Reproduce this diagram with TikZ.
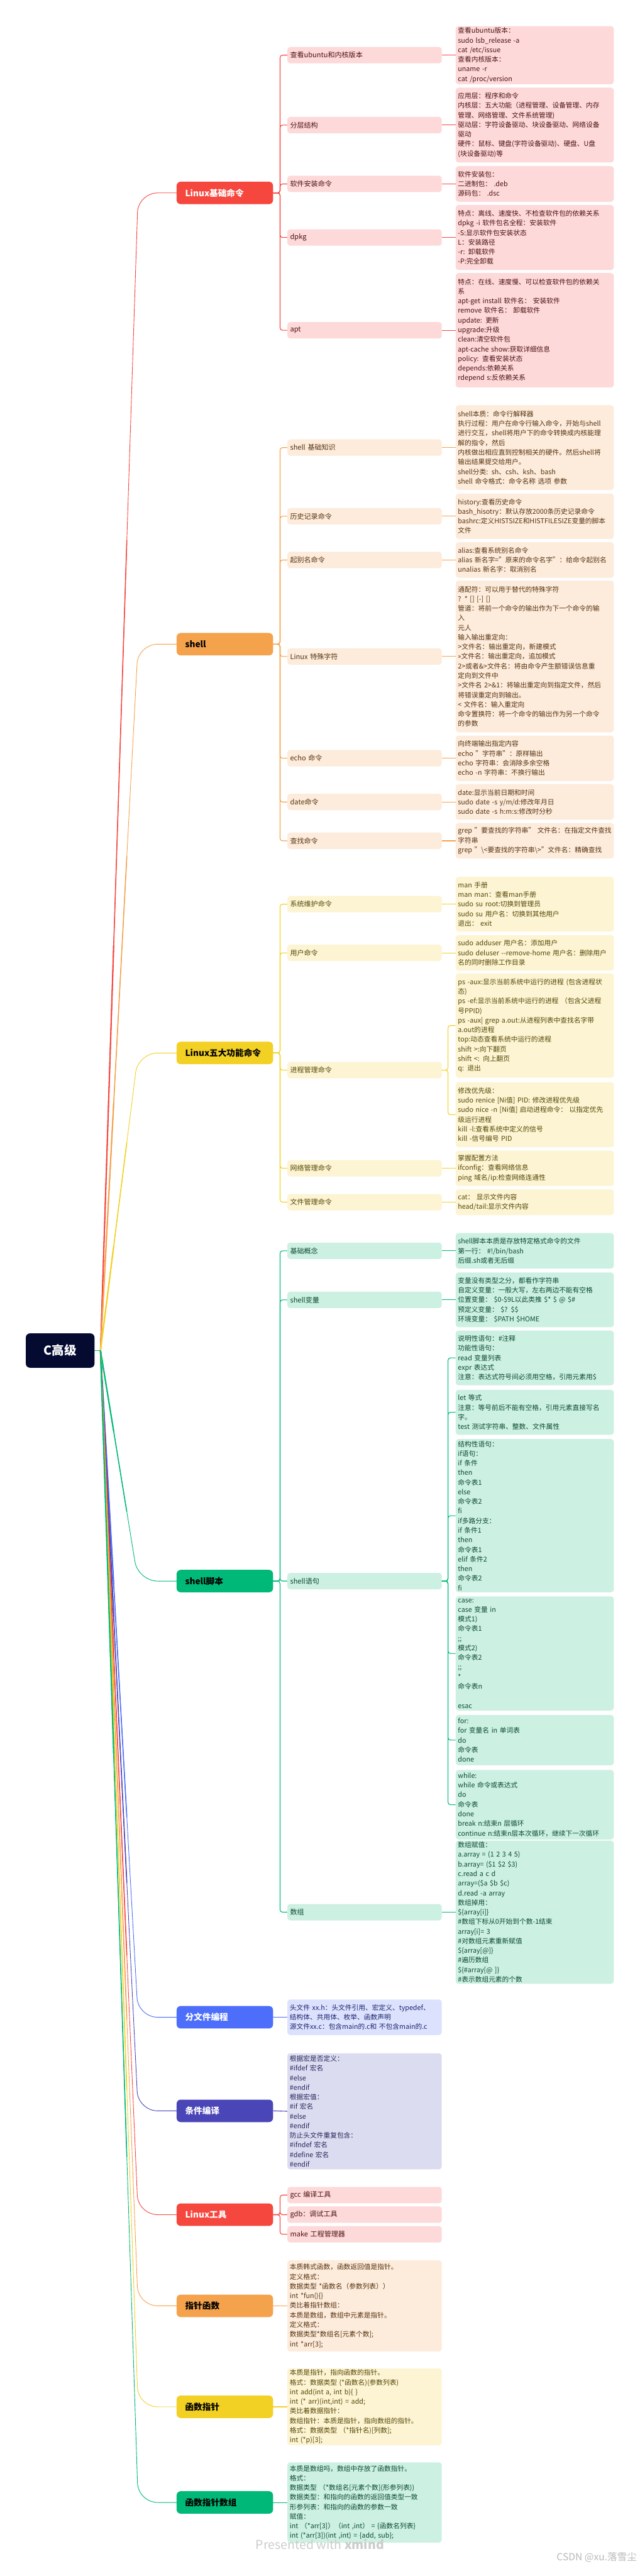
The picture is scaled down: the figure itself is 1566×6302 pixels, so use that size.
\documentclass[tikz,border=0pt]{standalone}
\usepackage{fontspec}
\setmainfont{Noto Sans CJK SC}
\usetikzlibrary{calc}
\definecolor{rootnavy}{HTML}{050B30}
\definecolor{lredmain}{HTML}{F6473F}
\definecolor{lredsoft}{HTML}{FDD9D9}
\definecolor{lredink}{HTML}{4E1212}
\definecolor{lorgmain}{HTML}{F5A24D}
\definecolor{lorgsoft}{HTML}{FDEBDB}
\definecolor{lorgink}{HTML}{553310}
\definecolor{lyelmain}{HTML}{F2D024}
\definecolor{lyelsoft}{HTML}{FCF4D2}
\definecolor{lyelink}{HTML}{554606}
\definecolor{lgrnmain}{HTML}{00B978}
\definecolor{lgrnsoft}{HTML}{CCF0E2}
\definecolor{lgrnink}{HTML}{0B4A31}
\definecolor{lblumain}{HTML}{4C6EFA}
\definecolor{lblusoft}{HTML}{DCE2FE}
\definecolor{lbluink}{HTML}{1B246B}
\definecolor{lindmain}{HTML}{4B46B8}
\definecolor{lindsoft}{HTML}{DCDCF0}
\definecolor{lindink}{HTML}{27255C}

\begin{document}
\begin{tikzpicture}[x=1pt, y=-1pt]
    \tikzset{
        rootbox/.style={fill=rootnavy, text=white, rounded corners=10pt, anchor=west,
            font=\bfseries\fontsize{30}{34}\selectfont, minimum height=84pt,
            text width=148pt, inner xsep=10pt, align=center},
        mainbox/.style={rounded corners=10pt, anchor=west, font=\bfseries\fontsize{21}{25}\selectfont,
            minimum height=55pt, text width=194pt, inner xsep=21pt, align=left},
        main/.style={mainbox, fill=#1main, text=black},
        sub/.style={fill=#1soft, text=#1ink, rounded corners=7pt, anchor=west,
            font=\fontsize{17}{23.5}\selectfont, minimum height=40pt,
            text width=364pt, inner xsep=7pt, inner ysep=3pt, align=left},
        note/.style={sub=#1, font=\fontsize{16.5}{23.5}\selectfont, text width=366pt, inner xsep=6pt},
        leaf/.style={sub=#1, font=\fontsize{16.5}{23.5}\selectfont, text width=376pt, inner xsep=5.5pt},
        wire/.style={draw=#1main, line width=1.7pt, rounded corners=6pt}
    }

    % fond et cadre
    \fill[white] (0,0) rectangle (1566,6302);
    \useasboundingbox (0,0) rectangle (1566,6302);

    % racine
    \node[rootbox] (root) at (63,3304) {C高级};

    % branches principales
    \node[main=lred, text=white] (m1) at (432,472) {Linux基础命令};
    \node[main=lorg] (m2) at (432,1576) {shell};
    \node[main=lyel] (m3) at (432,2576) {Linux五大功能命令};
    \node[main=lgrn] (m4) at (432,3868) {shell脚本};
    \node[main=lblu, text=white] (m5) at (432,4935) {分文件编程};
    \node[main=lind, text=white] (m6) at (432,5164) {条件编译};
    \node[main=lred, text=white] (m7) at (432,5418) {Linux工具};
    \node[main=lorg] (m8) at (432,5641) {指针函数};
    \node[main=lyel] (m9) at (432,5888) {函数指针};
    \node[main=lgrn] (m10) at (432,6122) {函数指针数组};

    % liens racine (effilés)
    \coordinate (hub) at (246,3304);
    \coordinate (bend) at (338,0);
    \draw[lgrnmain, line width=1.3pt] (root.east) -- (hub);
    \foreach \m/\col in {m1/lred,m2/lorg,m3/lyel,m4/lgrn,m5/lblu,m6/lind,m7/lred,m8/lorg,m9/lyel,m10/lgrn} {
        \coordinate (k\m) at (\m.west -| bend);
        \draw[draw=\col main, line width=1.4pt, rounded corners=48pt] (hub) -- (k\m) -- (\m.west);
        \draw[draw=\col main, line width=2.4pt] (hub) -- ($(hub)!0.7!(k\m)$);
        \draw[draw=\col main, line width=3.2pt] (hub) -- ($(hub)!0.35!(k\m)$);
    }

    % -- Linux基础命令 --
    \node[sub=lred] (ver) at (703,135) {查看ubuntu和内核版本};
    \node[sub=lred] (layer) at (703,306) {分层结构};
    \node[sub=lred] (inst) at (703,450) {软件安装命令};
    \node[sub=lred] (dpkg) at (703,581) {dpkg};
    \node[sub=lred] (apt) at (703,808) {apt};

    \node[leaf=lred, minimum height=142pt] (t-ver) at (1115,135)
        {查看ubuntu版本：\\sudo lsb\_release -a\\cat /etc/issue\\查看内核版本：\\uname -r\\cat /proc/version};
    \node[leaf=lred, minimum height=183pt] (t-layer) at (1115,306)
        {应用层：程序和命令\\内核层：五大功能（进程管理、设备管理、内存\\管理、网络管理、文件系统管理)\\驱动层：字符设备驱动、块设备驱动、网络设备\\驱动\\硬件：鼠标、键盘(字符设备驱动)、硬盘、U盘\\(块设备驱动)等};
    \node[leaf=lred, minimum height=87pt] (t-inst) at (1115,450)
        {软件安装包：\\二进制包： .deb\\源码包： .dsc};
    \node[leaf=lred, minimum height=159pt] (t-dpkg) at (1115,581)
        {特点：离线、速度快、不检查软件包的依赖关系\\dpkg -i 软件包名全程：安装软件\\-S:显示软件包安装状态\\L：安装路径\\-r: 卸载软件\\-P:完全卸载};
    \node[leaf=lred, minimum height=280pt] (t-apt) at (1115,808)
        {特点：在线、速度慢、可以检查软件包的依赖关\\系\\apt-get install 软件名： 安装软件\\remove 软件名： 卸载软件\\update: 更新\\upgrade:升级\\clean:清空软件包\\apt-cache show:获取详细信息\\policy: 查看安装状态\\depends:依赖关系\\rdepend s:反依赖关系};

    \foreach \k in {ver,layer,inst,dpkg,apt} {
        \draw[wire=lred] (m1.east) -- ++(17,0) |- (\k.west);
        \draw[wire=lred] (\k.east) -- (t-\k.west);
    }

    % -- shell --
    \node[sub=lorg] (base) at (703,1095) {shell 基础知识};
    \node[sub=lorg] (hist) at (703,1263) {历史记录命令};
    \node[sub=lorg] (alias) at (703,1370) {起别名命令};
    \node[sub=lorg] (spec) at (703,1606) {Linux 特殊字符};
    \node[sub=lorg] (echo) at (703,1855) {echo 命令};
    \node[sub=lorg] (date) at (703,1962) {date命令};
    \node[sub=lorg] (grep) at (703,2057) {查找命令};

    \node[leaf=lorg, minimum height=207pt] (t-base) at (1115,1095)
        {shell本质：命令行解释器\\执行过程：用户在命令行输入命令，开始与shell\\进行交互，shell将用户下的命令转换成内核能理\\解的指令，然后\\内核做出相应直到控制相关的硬件。然后shell将\\输出结果提交给用户。\\shell分类: sh、csh、ksh、bash\\shell 命令格式：命令名称 选项 参数};
    \node[leaf=lorg, minimum height=111pt] (t-hist) at (1115,1263)
        {history:查看历史命令\\bash\_hisotry：默认存放2000条历史记录命令\\bashrc:定义HISTSIZE和HISTFILESIZE变量的脚本\\文件};
    \node[leaf=lorg, minimum height=87pt] (t-alias) at (1115,1370)
        {alias:查看系统别名命令\\alias 新名字="原来的命令名字"：给命令起别名\\unalias 新名字：取消别名};
    \node[leaf=lorg, minimum height=371pt] (t-spec) at (1115,1606)
        {通配符：可以用于替代的特殊字符\\? * [] [-] []\\管道：将前一个命令的输出作为下一个命令的输\\入\\元人\\输入输出重定向：\\>文件名：输出重定向，新建模式\\>>文件名：输出重定向，追加模式\\2>或者\&>文件名：将由命令产生额错误信息重\\定向到文件中\\>文件名 2>\&1：将输出重定向到指定文件，然后\\将错误重定向到输出。\\< 文件名：输入重定向\\命令置换符：将一个命令的输出作为另一个命令\\的参数};
    \node[leaf=lorg, minimum height=111pt] (t-echo) at (1115,1855)
        {向终端输出指定内容\\echo "字符串"：原样输出\\echo 字符串：会消除多余空格\\echo -n 字符串：不换行输出};
    \node[leaf=lorg, minimum height=87pt] (t-date) at (1115,1962)
        {date:显示当前日期和时间\\sudo date -s y/m/d:修改年月日\\sudo date -s h:m:s:修改时分秒};
    \node[leaf=lorg, minimum height=87pt] (t-grep) at (1115,2057)
        {grep "要查找的字符串" 文件名：在指定文件查找\\字符串\\grep "\textbackslash<要查找的字符串\textbackslash>"文件名：精确查找};

    \foreach \k in {base,hist,alias,spec,echo,date,grep} {
        \draw[wire=lorg] (m2.east) -- ++(17,0) |- (\k.west);
        \draw[wire=lorg] (\k.east) -- (t-\k.west);
    }

    % -- Linux五大功能命令 --
    \node[sub=lyel] (sysm) at (703,2212) {系统维护命令};
    \node[sub=lyel] (user) at (703,2331) {用户命令};
    \node[sub=lyel] (proc) at (703,2618) {进程管理命令};
    \node[sub=lyel] (net) at (703,2858) {网络管理命令};
    \node[sub=lyel] (file) at (703,2941) {文件管理命令};

    \node[leaf=lyel, minimum height=134pt] (t-sysm) at (1115,2212)
        {man 手册\\man man：查看man手册\\sudo su root:切换到管理员\\sudo su 用户名：切换到其他用户\\退出： exit};
    \node[leaf=lyel, minimum height=87pt] (t-user) at (1115,2331)
        {sudo adduser 用户名：添加用户\\sudo deluser -{}-remove-home 用户名：删除用户\\名的同时删除工作目录};
    \node[leaf=lyel, minimum height=255pt] (t-proc1) at (1115,2509)
        {ps -aux:显示当前系统中运行的进程 (包含进程状\\态)\\ps -ef:显示当前系统中运行的进程 （包含父进程\\号PPID)\\ps -aux| grep a.out:从进程列表中查找名字带\\a.out的进程\\top:动态查看系统中运行的进程\\shift >:向下翻页\\shift <: 向上翻页\\q: 退出};
    \node[leaf=lyel, minimum height=159pt] (t-proc2) at (1115,2727)
        {修改优先级：\\sudo renice [Ni值] PID: 修改进程优先级\\sudo nice -n [Ni值] 启动进程命令： 以指定优先\\级运行进程\\kill -l:查看系统中定义的信号\\kill -信号编号 PID};
    \node[leaf=lyel, minimum height=86pt] (t-net) at (1115,2858)
        {掌握配置方法\\ifconfig：查看网络信息\\ping 域名/ip:检查网络连通性};
    \node[leaf=lyel, minimum height=63pt] (t-file) at (1115,2941)
        {cat： 显示文件内容\\head/tail:显示文件内容};

    \foreach \k in {sysm,user,proc,net,file}
        \draw[wire=lyel] (m3.east) -- ++(17,0) |- (\k.west);
    \foreach \k in {sysm,user,net,file}
        \draw[wire=lyel] (\k.east) -- (t-\k.west);
    \foreach \t in {t-proc1,t-proc2}
        \draw[wire=lyel] (proc.east) -- ++(15,0) |- (\t.west);

    % -- shell脚本 --
    \node[sub=lgrn] (idea) at (703,3060) {基础概念};
    \node[sub=lgrn] (var) at (703,3180) {shell变量};
    \node[sub=lgrn] (stmt) at (703,3868) {shell语句};
    \node[sub=lgrn] (arr) at (703,4678) {数组};

    \node[leaf=lgrn, minimum height=87pt] (t-idea) at (1115,3060)
        {shell脚本本质是存放特定格式命令的文件\\第一行： \#!/bin/bash\\后缀.sh或者无后缀};
    \node[leaf=lgrn, minimum height=134pt] (t-var) at (1115,3180)
        {变量没有类型之分，都看作字符串\\自定义变量：一般大写，左右两边不能有空格\\位置变量： \$0-\$9L以此类推 \$* \$ @ \$\#\\预定义变量： \$? \$\$\\环境变量： \$PATH \$HOME};
    \node[leaf=lgrn, minimum height=134pt] (t-stmt1) at (1115,3322)
        {说明性语句：\#注释\\功能性语句：\\read 变量列表\\expr 表达式\\注意：表达式符号间必须用空格，引用元素用\$};
    \node[leaf=lgrn, minimum height=110pt] (t-stmt2) at (1115,3455)
        {let 等式\\注意：等号前后不能有空格，引用元素直接写名\\字。\\test 测试字符串、整数、文件属性};
    \node[leaf=lgrn, minimum height=375pt] (t-stmt3) at (1115,3708)
        {结构性语句：\\if语句：\\if 条件\\then\\命令表1\\else\\命令表2\\fi\\if多路分支：\\if 条件1\\then\\命令表1\\elif 条件2\\then\\命令表2\\fi};
    \node[leaf=lgrn, minimum height=279pt] (t-stmt4) at (1115,4045)
        {case:\\case 变量 in\\模式1)\\命令表1\\;;\\模式2)\\命令表2\\;;\\{}*\\命令表n\\[23.5pt]esac};
    \node[leaf=lgrn, minimum height=123pt] (t-stmt5) at (1115,4257)
        {for:\\for 变量名 in 单词表\\do\\命令表\\done};
    \node[leaf=lgrn, minimum height=170pt] (t-stmt6) at (1115,4415)
        {while:\\while 命令或表达式\\do\\命令表\\done\\break n:结束n 层循环\\continue n:结束n层本次循环，继续下一次循环};
    \node[leaf=lgrn, minimum height=339pt] (t-arr) at (1115,4678)
        {数组赋值：\\a.array = (1 2 3 4 5)\\b.array= (\$1 \$2 \$3)\\c.read a c d\\array=(\$a \$b \$c)\\d.read -a array\\数组掉用：\\\$\{array[i]\}\\\#数组下标从0开始到个数-1结束\\array[i]= 3\\\#对数组元素重新赋值\\\$\{array[@]\}\\\#遍历数组\\\$\{\#array[@ ]\}\\\#表示数组元素的个数};

    \foreach \k in {idea,var,stmt,arr}
        \draw[wire=lgrn] (m4.east) -- ++(17,0) |- (\k.west);
    \foreach \k in {idea,var,arr}
        \draw[wire=lgrn] (\k.east) -- (t-\k.west);
    \foreach \i in {1,...,6}
        \draw[wire=lgrn] (stmt.east) -- ++(15,0) |- (t-stmt\i.west);

    % -- 分文件编程, 条件编译 --
    \node[note=lblu, minimum height=87pt] (split) at (703,4935)
        {头文件 xx.h：头文件引用、宏定义、typedef、\\结构体、共用体、枚举、函数声明\\源文件xx.c：包含main的.c和 不包含main的.c};
    \node[note=lind, minimum height=284pt] (cond) at (703,5165)
        {根据宏是否定义：\\\#ifdef 宏名\\\#else\\\#endif\\根据宏值：\\\#if 宏名\\\#else\\\#endif\\防止头文件重复包含：\\\#ifndef 宏名\\\#define 宏名\\\#endif};
    \draw[wire=lblu] (m5.east) -- (split.west);
    \draw[wire=lind] (m6.east) -- (cond.west);

    % -- Linux工具 --
    \node[sub=lred] (gcc) at (703,5370) {gcc 编译工具};
    \node[sub=lred] (gdb) at (703,5418) {gdb：调试工具};
    \node[sub=lred] (make) at (703,5466) {make 工程管理器};
    \foreach \k in {gcc,gdb,make}
        \draw[wire=lred] (m7.east) -- ++(17,0) |- (\k.west);

    % -- pointeurs --
    \node[note=lorg, minimum height=223pt] (pfun) at (703,5641)
        {本质韩式函数，函数返回值是指针。\\定义格式：\\数据类型 *函数名（参数列表））\\int *fun()\{\}\\类比着指针数组：\\本质是数组，数组中元素是指针。\\定义格式：\\数据类型*数组名[元素个数];\\int *arr[3];};
    \node[note=lyel, minimum height=187pt] (fptr) at (703,5888)
        {本质是指针，指向函数的指针。\\格式：数据类型 (*函数名)(参数列表)\\int add(int a, int b)\{ \}\\int (* arr)(int,int) = add;\\类比着数据指针：\\数组指针：本质是指针，指向数组的指针。\\格式：数据类型 （*指针名)[列数];\\int (*p)[3];};
    \node[note=lgrn, minimum height=196pt] (fptrarr) at (703,6122)
        {本质是数组吗，数组中存放了函数指针。\\格式：\\数据类型 （*数组名[元素个数](形参列表))\\数据类型：和指向的函数的返回值类型一致\\形参列表：和指向的函数的参数一致\\赋值：\\int （*arr[3]）（int ,int） = \{函数名列表\}\\int (*arr[3])(int ,int) = \{add, sub\};};
    \draw[wire=lorg] (m8.east) -- (pfun.west);
    \draw[wire=lyel] (m9.east) -- (fptr.west);
    \draw[wire=lgrn] (m10.east) -- (fptrarr.west);

    % filigranes
    \node[font=\fontsize{30}{34}\selectfont, text=gray!40] (pw) at (783,6224) {Presented with \textbf{xmind}};
    \node[anchor=east, font=\fontsize{24}{28}\selectfont, text=gray!55] (csdn) at (1562,6256) {CSDN @xu.落雪尘};

\end{tikzpicture}
\end{document}
